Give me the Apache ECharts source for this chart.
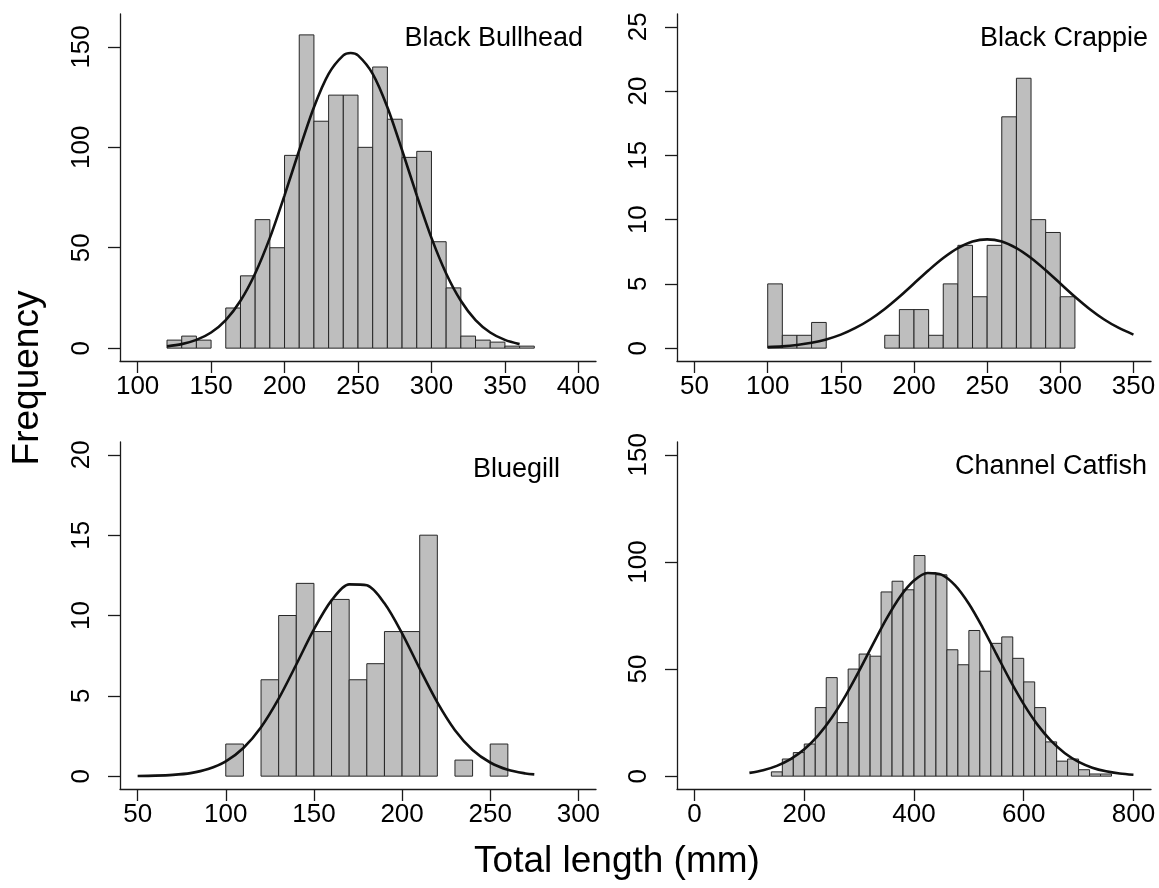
<!DOCTYPE html>
<html>
<head>
<meta charset="utf-8">
<title>Total length frequency by species</title>
<script src="https://cdn.jsdelivr.net/npm/echarts@6/dist/echarts.min.js"></script>
<style>
  html, body { margin: 0; padding: 0; background: #ffffff; }
  #chart { width: 1159px; height: 888px; }
</style>
</head>
<body>
<div id="chart"></div>
<script>
// Black Bullhead: 10 mm bins
const bullheadLower = [120, 130, 140, 150, 160, 170, 180, 190, 200, 210, 220, 230, 240, 250, 260, 270, 280, 290, 300, 310, 320, 330, 340, 350, 360];
const bullheadCounts = [4, 6, 4, 0, 20, 36, 64, 50, 96, 156, 113, 126, 126, 100, 140, 114, 95, 98, 53, 30, 6, 4, 3, 1, 1];
const bullheadCurveX = [120, 130, 140, 150, 160, 170, 180, 190, 200, 210, 220, 230, 240, 245, 250, 260, 270, 280, 290, 300, 310, 320, 330, 340, 350, 360];
const bullheadCurveY = [0.9, 2.0, 4.1, 7.8, 14.0, 23.6, 37.2, 54.9, 76.1, 98.6, 120.0, 136.6, 145.8, 147, 145.8, 136.6, 120.0, 98.6, 76.1, 54.9, 37.2, 23.6, 14.0, 7.8, 4.1, 2.0];

// Black Crappie: 10 mm bins
const crappieLower = [100, 110, 120, 130, 140, 150, 160, 170, 180, 190, 200, 210, 220, 230, 240, 250, 260, 270, 280, 290, 300];
const crappieCounts = [5, 1, 1, 2, 0, 0, 0, 0, 1, 3, 3, 1, 5, 8, 4, 8, 18, 21, 10, 9, 4];
const crappieCurveX = [100, 110, 120, 130, 140, 150, 160, 170, 180, 190, 200, 210, 220, 230, 240, 250, 260, 270, 280, 290, 300, 310, 320, 330, 340, 350];
const crappieCurveY = [0.08, 0.14, 0.25, 0.42, 0.68, 1.05, 1.57, 2.23, 3.05, 4.0, 5.03, 6.06, 7.01, 7.78, 8.29, 8.46, 8.29, 7.78, 7.01, 6.06, 5.03, 4.0, 3.05, 2.23, 1.57, 1.05];

// Bluegill: 10 mm bins
const bluegillLower = [100, 110, 120, 130, 140, 150, 160, 170, 180, 190, 200, 210, 220, 230, 240, 250];
const bluegillCounts = [2, 0, 6, 10, 12, 9, 11, 6, 7, 9, 9, 15, 0, 1, 0, 2];
const bluegillCurveX = [50, 60, 70, 80, 90, 100, 110, 120, 130, 140, 150, 160, 170, 180, 190, 200, 210, 220, 230, 240, 250, 260, 270, 275];
const bluegillCurveY = [0.01, 0.03, 0.08, 0.19, 0.44, 0.92, 1.75, 3.04, 4.82, 6.95, 9.14, 10.94, 11.94, 11.88, 10.76, 8.89, 6.69, 4.59, 2.86, 1.63, 0.85, 0.4, 0.17, 0.11];

// Channel Catfish: 20 mm bins
const catfishLower = [140, 160, 180, 200, 220, 240, 260, 280, 300, 320, 340, 360, 380, 400, 420, 440, 460, 480, 500, 520, 540, 560, 580, 600, 620, 640, 660, 680, 700, 720, 740];
const catfishCounts = [2, 8, 11, 15, 32, 46, 25, 50, 57, 56, 86, 91, 87, 103, 95, 94, 59, 52, 68, 49, 62, 65, 55, 44, 32, 16, 7, 8, 3, 1, 1];
const catfishCurveX = [100, 125, 150, 175, 200, 225, 250, 275, 300, 325, 350, 375, 400, 425, 450, 475, 500, 525, 550, 575, 600, 625, 650, 675, 700, 725, 750, 775, 800];
const catfishCurveY = [1.52, 2.77, 4.8, 7.95, 12.57, 18.95, 27.28, 37.49, 49.16, 61.55, 73.55, 83.89, 91.32, 94.87, 94.08, 89.04, 80.45, 69.37, 57.11, 44.83, 33.62, 24.05, 16.43, 10.71, 6.67, 3.96, 2.24, 1.21, 0.63];

// tick labels
const bullheadXTicks = [100, 150, 200, 250, 300, 350, 400];
const crappieXTicks = [50, 100, 150, 200, 250, 300, 350];
const bluegillXTicks = [50, 100, 150, 200, 250, 300];
const catfishXTicks = [0, 200, 400, 600, 800];
const bullheadYTicks = [0, 50, 100, 150];
const crappieYTicks = [0, 5, 10, 15, 20, 25];
const bluegillYTicks = [0, 5, 10, 15, 20];
const catfishYTicks = [0, 50, 100, 150];

const FONT = '"Liberation Sans", Arial, sans-serif';
const INK = '#1a1a1a';

const panels = [
  { name: 'Black Bullhead', lower: bullheadLower, counts: bullheadCounts, bin: 10,
    cx: bullheadCurveX, cy: bullheadCurveY, xTicks: bullheadXTicks, yTicks: bullheadYTicks,
    xRange: [88, 412], yRange: [-6.4, 166.4],
    grid: { left: 120, top: 14, width: 476, height: 347 }, label: [583, 39] },
  { name: 'Black Crappie', lower: crappieLower, counts: crappieCounts, bin: 10,
    cx: crappieCurveX, cy: crappieCurveY, xTicks: crappieXTicks, yTicks: crappieYTicks,
    xRange: [38, 362], yRange: [-1, 26],
    grid: { left: 677, top: 14, width: 474, height: 347 }, label: [1148, 39] },
  { name: 'Bluegill', lower: bluegillLower, counts: bluegillCounts, bin: 10,
    cx: bluegillCurveX, cy: bluegillCurveY, xTicks: bluegillXTicks, yTicks: bluegillYTicks,
    xRange: [40, 310], yRange: [-0.8, 20.8],
    grid: { left: 120, top: 442, width: 476, height: 347 }, label: [560, 470] },
  { name: 'Channel Catfish', lower: catfishLower, counts: catfishCounts, bin: 20,
    cx: catfishCurveX, cy: catfishCurveY, xTicks: catfishXTicks, yTicks: catfishYTicks,
    xRange: [-32, 832], yRange: [-6, 156],
    grid: { left: 677, top: 442, width: 474, height: 347 }, label: [1147, 467] }
];

const histItem = (params, api) => {
  const n = api.value(2);
  if (!n) return null;
  const top = api.coord([api.value(0), n]);
  const base = api.coord([api.value(1), 0]);
  return {
    type: 'rect',
    shape: { x: top[0], y: top[1], width: base[0] - top[0], height: base[1] - top[1] },
    style: { fill: '#bebebe', stroke: '#262626', lineWidth: 1 }
  };
};

const axisLine = { show: true, onZero: false, lineStyle: { color: INK, width: 1.3 } };

const option = {
  animation: false,
  backgroundColor: '#ffffff',
  grid: panels.map(p => Object.assign({ containLabel: false }, p.grid)),
  xAxis: panels.map((p, i) => ({
    type: 'value', gridIndex: i, min: p.xRange[0], max: p.xRange[1],
    splitLine: { show: false },
    axisLine: axisLine,
    axisTick: { show: true, inside: false, length: 12, customValues: p.xTicks, lineStyle: { color: INK, width: 1.3 } },
    axisLabel: { customValues: p.xTicks, margin: 13, fontSize: 26, fontFamily: FONT, color: '#000' }
  })),
  yAxis: panels.map((p, i) => ({
    type: 'value', gridIndex: i, min: p.yRange[0], max: p.yRange[1],
    splitLine: { show: false },
    axisLine: axisLine,
    axisTick: { show: true, inside: false, length: 12, customValues: p.yTicks, lineStyle: { color: INK, width: 1.3 } },
    axisLabel: { customValues: p.yTicks, rotate: 90, margin: 25, fontSize: 26, fontFamily: FONT, color: '#000' }
  })),
  series: [].concat(
    panels.map((p, i) => ({
      name: p.name + ' counts',
      type: 'custom', xAxisIndex: i, yAxisIndex: i,
      renderItem: histItem,
      encode: { x: [0, 1], y: 2 },
      data: p.lower.map((lo, k) => [lo, lo + p.bin, p.counts[k]]),
      z: 2
    })),
    panels.map((p, i) => ({
      name: p.name + ' normal',
      type: 'line', xAxisIndex: i, yAxisIndex: i,
      smooth: 0.3, showSymbol: false, symbol: 'none',
      lineStyle: { color: '#111', width: 2.6 },
      data: p.cx.map((x, k) => [x, p.cy[k]]),
      z: 3
    }))
  ),
  graphic: panels.map(p => ({
    type: 'text', x: p.label[0], y: p.label[1], z: 10,
    style: { text: p.name, font: '27px ' + FONT, fill: '#000', align: 'right', verticalAlign: 'middle' }
  })).concat([
    { type: 'text', x: 28, y: 378, rotation: Math.PI / 2, z: 10,
      style: { text: 'Frequency', font: '37px ' + FONT, fill: '#000', align: 'center', verticalAlign: 'middle' } },
    { type: 'text', x: 617, y: 862, z: 10,
      style: { text: 'Total length (mm)', font: '37px ' + FONT, fill: '#000', align: 'center', verticalAlign: 'middle' } }
  ])
};

const chart = echarts.init(document.getElementById('chart'), null, { renderer: 'canvas' });
chart.setOption(option);
</script>
</body>
</html>
